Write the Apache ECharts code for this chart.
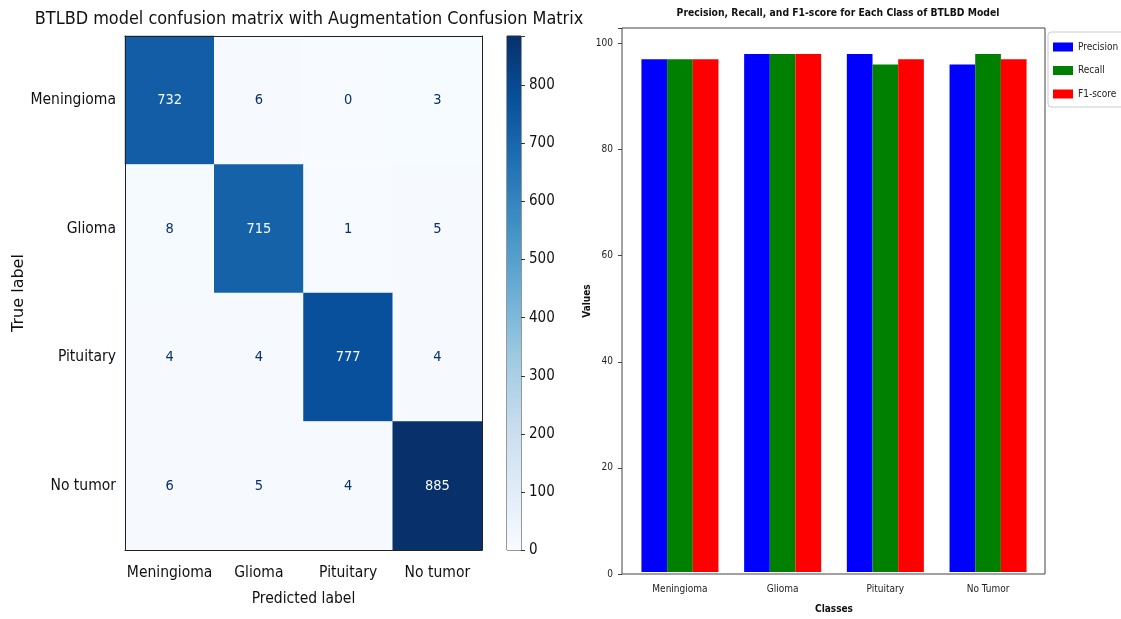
<!DOCTYPE html>
<html>
<head>
<meta charset="utf-8">
<script src="https://cdn.jsdelivr.net/npm/echarts@6/dist/echarts.min.js"></script>
<style>
  html, body { margin: 0; padding: 0; background: #fff; }
  #chart { width: 1121px; height: 619px; }
</style>
</head>
<body>
<div id="chart"></div>
<script>
// Confusion matrix (rows = true label, columns = predicted label)
const cmLabels = ['Meningioma', 'Glioma', 'Pituitary', 'No tumor'];
const cmRow0 = [732, 6, 0, 3];
const cmRow1 = [8, 715, 1, 5];
const cmRow2 = [4, 4, 777, 4];
const cmRow3 = [6, 5, 4, 885];
const cmRows = [cmRow0, cmRow1, cmRow2, cmRow3];
const colorbarTicks = [0, 100, 200, 300, 400, 500, 600, 700, 800];

// Per-class metrics (%)
const classes = ['Meningioma', 'Glioma', 'Pituitary', 'No Tumor'];
const precision = [97, 98, 98, 96];
const recall = [97, 98, 96, 98];
const f1score = [97, 98, 97, 97];
const valueTicks = [0, 20, 40, 60, 80, 100];

const FONT = '"DejaVu Sans Condensed", "DejaVu Sans", sans-serif';
const FONT_WIDE = '"DejaVu Sans", sans-serif';
const blues = ['#f7fbff', '#deebf7', '#c6dbef', '#9ecae1', '#6baed6',
               '#4292c6', '#2171b5', '#08519c', '#08306b'];

const allVals = cmRows.flat();
const cmMax = Math.max(...allVals);
const cmMin = Math.min(...allVals);
const thresh = (cmMax + cmMin) / 2;

const heatData = [];
cmRows.forEach((row, r) => {
  row.forEach((v, c) => {
    heatData.push({
      value: [c, r, v],
      label: { color: v > thresh ? blues[0] : blues[8] }
    });
  });
});

const barsYMax = Math.max(...precision, ...recall, ...f1score) * 1.05;

const chart = echarts.init(document.getElementById('chart'));
chart.setOption({
  animation: false,
  backgroundColor: '#fff',
  textStyle: { fontFamily: FONT },
  title: [
    {
      text: 'BTLBD model confusion matrix with Augmentation Confusion Matrix',
      left: 304, top: 5, textAlign: 'center',
      textStyle: { fontFamily: FONT, fontSize: 17.9, fontWeight: 'normal', color: '#111' }
    },
    {
      text: 'Precision, Recall, and F1-score for Each Class of BTLBD Model',
      left: 833, top: 3, textAlign: 'center',
      textStyle: { fontFamily: FONT, fontSize: 10.3, fontWeight: 'bold', color: '#111' }
    }
  ],
  visualMap: {
    show: false, seriesIndex: 0, min: 0, max: cmMax,
    inRange: { color: blues }
  },
  legend: {
    data: ['Precision', 'Recall', 'F1-score'],
    orient: 'vertical', left: 1048, top: 32,
    itemWidth: 20, itemHeight: 9, itemGap: 13.5,
    padding: [10, 30, 8, 5],
    borderColor: '#ccc', borderWidth: 1, borderRadius: 3,
    icon: 'rect',
    textStyle: { fontFamily: FONT, fontSize: 10, color: '#222' }
  },
  grid: [
    { left: 125, top: 36, width: 357, height: 514 },                 // matrix
    { left: 507, top: 36, width: 14, height: 514, show: true,
      borderColor: '#333', borderWidth: 1 },                            // colorbar
    { left: 622, top: 28, width: 423, height: 546, show: true,
      borderColor: '#444', borderWidth: 1 },                            // metric frame
    { left: 628.6, top: 28, width: 410.8, height: 546 }                // metric bars
  ],
  xAxis: [
    {
      gridIndex: 0, type: 'category', data: cmLabels, position: 'bottom', z: 5,
      name: 'Predicted label', nameLocation: 'middle', nameGap: 41,
      nameTextStyle: { fontFamily: FONT, fontSize: 15.5, color: '#111' },
      axisLine: { lineStyle: { color: '#222' } },
      axisTick: { alignWithLabel: true, length: 5, lineStyle: { color: '#222' } },
      axisLabel: { fontFamily: FONT, fontSize: 15.5, color: '#111', margin: 15, interval: 0 },
      splitLine: { show: false }
    },
    {
      gridIndex: 0, type: 'category', data: cmLabels, position: 'top', z: 5,
      axisLine: { lineStyle: { color: '#222' } },
      axisTick: { show: false }, axisLabel: { show: false }
    },
    {
      gridIndex: 1, type: 'category', data: ['bar'],
      axisLine: { show: false }, axisTick: { show: false }, axisLabel: { show: false }
    },
    {
      gridIndex: 2, type: 'value', min: 0, max: 1, show: false
    },
    {
      gridIndex: 3, type: 'category', data: classes,
      name: 'Classes', nameLocation: 'middle', nameGap: 32,
      nameTextStyle: { fontFamily: FONT, fontSize: 10, fontWeight: 'bold', color: '#111' },
      axisLine: { show: false },
      axisTick: { alignWithLabel: true, length: 4, lineStyle: { color: '#444' } },
      axisLabel: { fontFamily: FONT, fontSize: 10, color: '#222', margin: 12, interval: 0 }
    }
  ],
  yAxis: [
    {
      gridIndex: 0, type: 'category', data: cmLabels, inverse: true, z: 5,
      name: 'True label', nameLocation: 'middle', nameGap: 98,
      nameTextStyle: { fontFamily: FONT_WIDE, fontSize: 16, color: '#111' },
      axisLine: { lineStyle: { color: '#222' } },
      axisTick: { alignWithLabel: true, length: 5, lineStyle: { color: '#222' } },
      axisLabel: { fontFamily: FONT, fontSize: 15.5, color: '#111', margin: 9, interval: 0 },
      splitLine: { show: false }
    },
    {
      gridIndex: 0, type: 'category', data: cmLabels, inverse: true, position: 'right', z: 5,
      axisLine: { lineStyle: { color: '#222' } },
      axisTick: { show: false }, axisLabel: { show: false }
    },
    {
      gridIndex: 1, type: 'value', position: 'right', min: 0, max: cmMax, interval: 100,
      axisLine: { show: false },
      axisTick: { show: true, length: 4, lineStyle: { color: '#333' } },
      axisLabel: {
        fontFamily: FONT, fontSize: 15, color: '#111', margin: 8,
        formatter: v => colorbarTicks.includes(v) ? String(v) : ''
      },
      splitLine: { show: false }
    },
    {
      gridIndex: 2, type: 'value', min: 0, max: barsYMax, interval: 20,
      name: 'Values', nameLocation: 'middle', nameGap: 27,
      nameTextStyle: { fontFamily: FONT, fontSize: 10, fontWeight: 'bold', color: '#111' },
      axisLine: { show: false },
      axisTick: { show: true, length: 4, lineStyle: { color: '#444' } },
      axisLabel: {
        fontFamily: FONT, fontSize: 10, color: '#222', margin: 9,
        formatter: v => valueTicks.includes(v) ? String(v) : ''
      },
      splitLine: { show: false }
    },
    {
      gridIndex: 3, type: 'value', min: 0, max: barsYMax, show: false
    }
  ],
  series: [
    {
      type: 'heatmap', xAxisIndex: 0, yAxisIndex: 0, data: heatData,
      label: { show: true, fontFamily: FONT, fontSize: 14.5 },
      itemStyle: { borderWidth: 0 },
      emphasis: { disabled: true }
    },
    {
      type: 'bar', xAxisIndex: 2, yAxisIndex: 2, data: [cmMax], barWidth: '100%',
      silent: true,
      itemStyle: {
        color: {
          type: 'linear', x: 0, y: 1, x2: 0, y2: 0,
          colorStops: blues.map((c, i) => ({ offset: i / (blues.length - 1), color: c }))
        }
      }
    },
    {
      name: 'Precision', type: 'bar', xAxisIndex: 4, yAxisIndex: 4,
      data: precision, barWidth: '25%', barGap: '0%',
      itemStyle: { color: '#0000ff' }
    },
    {
      name: 'Recall', type: 'bar', xAxisIndex: 4, yAxisIndex: 4,
      data: recall, barWidth: '25%', barGap: '0%',
      itemStyle: { color: '#008000' }
    },
    {
      name: 'F1-score', type: 'bar', xAxisIndex: 4, yAxisIndex: 4,
      data: f1score, barWidth: '25%', barGap: '0%',
      itemStyle: { color: '#ff0000' }
    }
  ]
});
</script>
</body>
</html>
